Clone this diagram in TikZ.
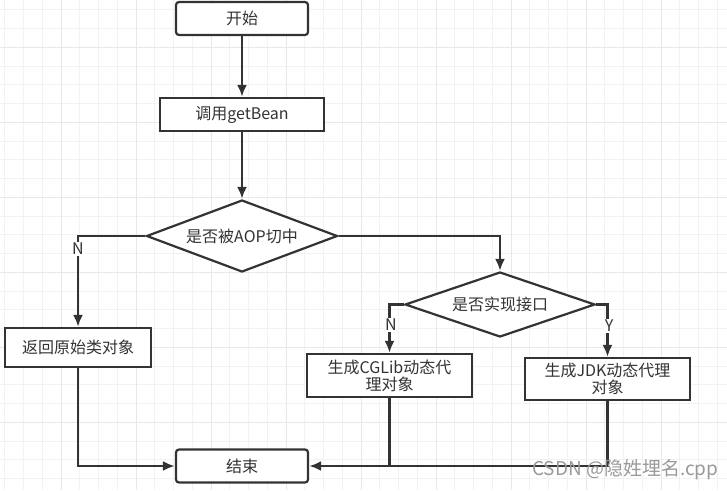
\documentclass[tikz,border=0pt]{standalone}
\usepackage{fontspec}
\setmainfont{Noto Sans CJK SC}
\usetikzlibrary{shapes.geometric,arrows.meta}
\definecolor{ink}{HTML}{333333}
\definecolor{gridminor}{HTML}{F2F2F2}
\definecolor{gridmajor}{HTML}{E8E8E8}

\begin{document}
\begin{tikzpicture}[x=1pt,y=-1pt,
  font=\fontsize{16}{19}\selectfont, text=ink,
  box/.style={draw=ink, line width=2.2pt, fill=white, minimum height=33pt, inner sep=2pt},
  term/.style={box, rounded corners=3pt, minimum width=132pt},
  decide/.style={diamond, draw=ink, line width=2.2pt, fill=white, inner sep=0pt, aspect=2.6},
  flow/.style={draw=ink, line width=2.4pt, -{Latex[length=12pt,width=10pt]}},
  lbl/.style={fill=white, inner sep=1pt, font=\fontsize{16}{18}\selectfont}]
  \useasboundingbox (0,0) rectangle (727,490);
  % grid
  \foreach \gx in {4.75,23.5,...,727} \draw[gridminor, line width=1pt] (\gx,0) -- (\gx,490);
  \foreach \gy in {9.8,28.55,...,490} \draw[gridminor, line width=1pt] (0,\gy) -- (727,\gy);
  \foreach \gx in {61,136,...,727} \draw[gridmajor, line width=1pt] (\gx,0) -- (\gx,490);
  \foreach \gy in {47.3,122.3,...,490} \draw[gridmajor, line width=1pt] (0,\gy) -- (727,\gy);

  \node[term] (start) at (242,18.5) {开始};
  \node[box, minimum width=164pt] (call) at (242,114.5) {调用getBean};
  \node[decide, minimum width=191pt, minimum height=72pt] (aop) at (242,236) {是否被AOP切中};
  \node[box, minimum width=146pt, minimum height=39pt] (orig) at (78,347.5) {返回原始类对象};
  \node[decide, minimum width=190pt, minimum height=65pt] (iface) at (500,304.5) {是否实现接口};
  \node[box, minimum width=165pt, minimum height=43pt, text width=155pt, align=center] (cglib) at (389.5,375.5) {生成CGLib动态代\\[-2pt]理对象};
  \node[box, minimum width=165pt, minimum height=42pt, text width=155pt, align=center] (jdk) at (607.5,379) {生成JDK动态代理\\[-2pt]对象};
  \node[term] (stop) at (242,466) {结束};

  \path[flow]
  (start) edge (call)
  (call) edge (aop);
  \draw[flow] (aop.west) -| (orig.north);
  \draw[flow] (aop.east) -| (iface.north);
  \draw[flow] (iface.west) -| (cglib.north);
  \draw[flow] (iface.east) -| (jdk.north);
  \draw[flow] (orig.south) |- (stop.west);
  \draw[flow] (jdk.south) |- (stop.east);
  \draw[draw=ink, line width=2.4pt] (cglib.south) -- (cglib.south |- stop.east);

  \node[lbl] (n1) at (78,249) {N};
  \node[lbl] (n2) at (391,325) {N};
  \node[lbl] (y1) at (609,326) {Y};
  % watermark
  \node[anchor=east, text=black!40, font=\fontsize{19}{21}\selectfont] (mark) at (722,470) {CSDN @隐姓埋名.cpp};
\end{tikzpicture}
\end{document}
